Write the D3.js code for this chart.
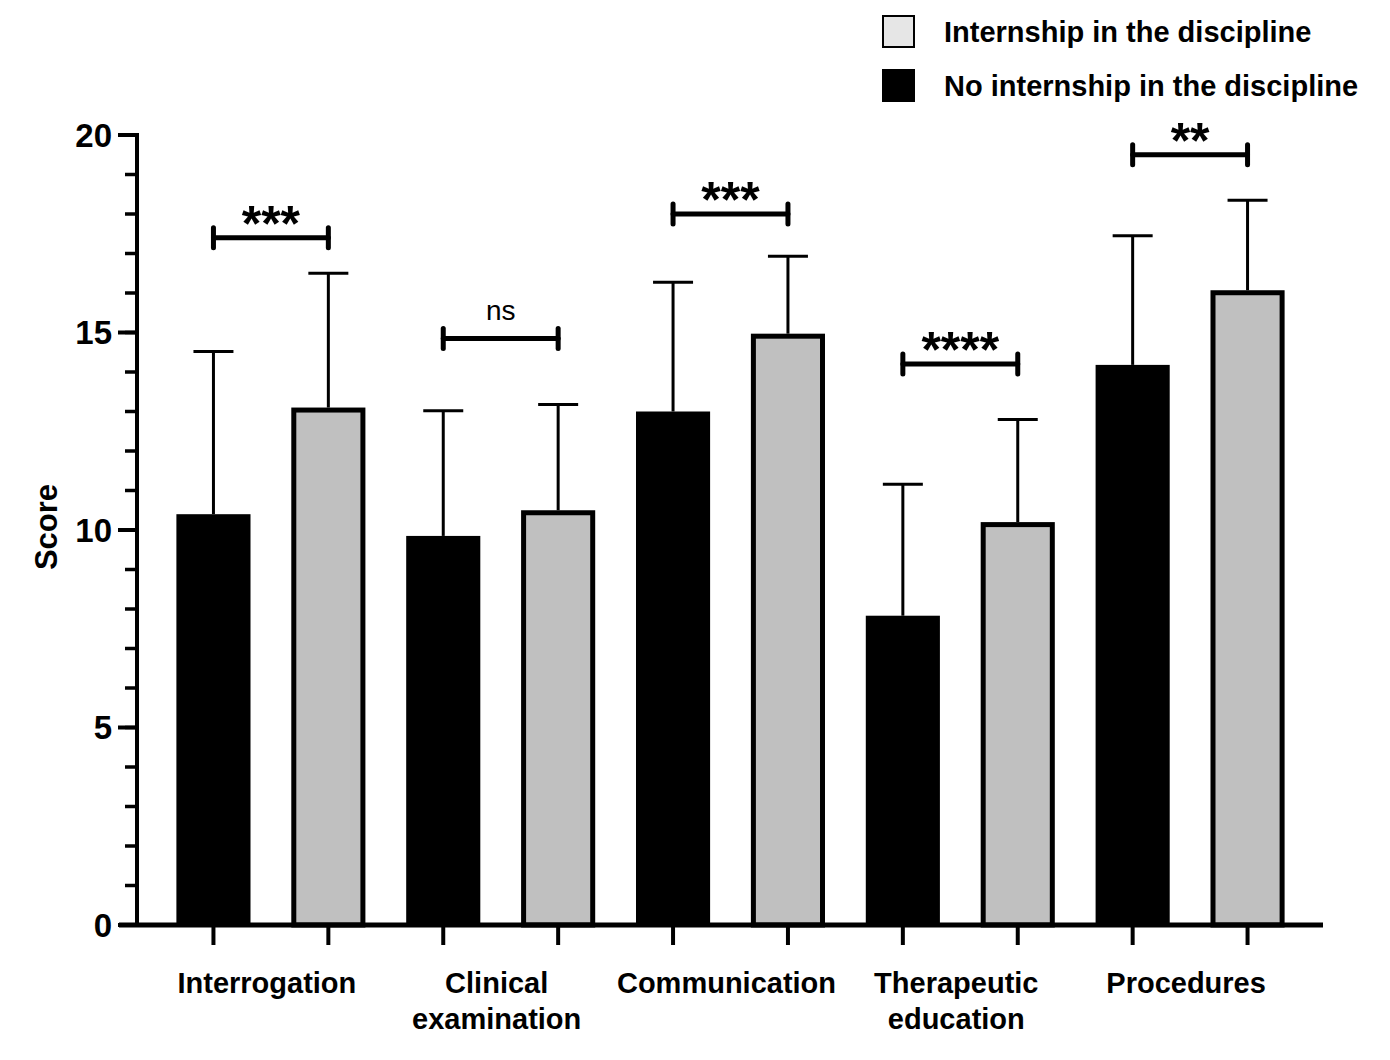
<!DOCTYPE html>
<html>
<head>
<meta charset="utf-8">
<script src="https://cdn.jsdelivr.net/npm/d3@7"></script>
<style>
  body { margin: 0; background: #fff; }
  text { font-family: "Liberation Sans", Arial, sans-serif; }
</style>
</head>
<body>
<div id="chart"></div>
<script>
// categories and series
var categories = ["Interrogation", "Clinical examination", "Communication", "Therapeutic education", "Procedures"];
var categoryLines = [["Interrogation"], ["Clinical", "examination"], ["Communication"], ["Therapeutic", "education"], ["Procedures"]];
var series = ["No internship in the discipline", "Internship in the discipline"];

// means and upper error (mean + SD)
var noInternMean = [10.4, 9.85, 13.0, 7.83, 14.18];
var noInternUpper = [14.52, 13.02, 16.27, 11.16, 17.45];
var internMean = [13.1, 10.5, 14.97, 10.2, 16.07];
var internUpper = [16.5, 13.18, 16.93, 12.8, 18.35];

// significance brackets
var sigLevel = [17.4, 14.85, 18.0, 14.2, 19.5];
var sigLabel = ["***", "ns", "***", "****", "**"];

var yTicks = [0, 5, 10, 15, 20];
var yMinorTicks = d3.range(0, 21, 1);

var width = 1390, height = 1060;

var svg = d3.select('#chart').append('svg')
  .attr('width', width)
  .attr('height', height);

var y = d3.scaleLinear().domain([0, 20]).range([925, 135]);

var x0 = d3.scaleBand().domain(categories).range([156, 1305]).paddingInner(0).paddingOuter(0);
var x1 = d3.scaleBand().domain(series).range([0, x0.bandwidth()])
  .paddingInner(0.355).paddingOuter(0.1775);

var data = [];
categories.forEach(function(c, i) {
  data.push({cat: c, s: series[0], mean: noInternMean[i], upper: noInternUpper[i]});
  data.push({cat: c, s: series[1], mean: internMean[i], upper: internUpper[i]});
});

var cx = function(d) { return x0(d.cat) + x1(d.s) + x1.bandwidth() / 2; };

// error bars (drawn behind the bars)
var eb = svg.append('g').attr('stroke', '#000').attr('stroke-width', 3);
eb.selectAll('line.v').data(data).enter().append('line')
  .attr('x1', cx).attr('x2', cx)
  .attr('y1', function(d) { return y(d.mean); })
  .attr('y2', function(d) { return y(d.upper); });
eb.selectAll('line.cap').data(data).enter().append('line')
  .attr('x1', function(d) { return cx(d) - 20; })
  .attr('x2', function(d) { return cx(d) + 20; })
  .attr('y1', function(d) { return y(d.upper); })
  .attr('y2', function(d) { return y(d.upper); });

// bars
svg.append('g').selectAll('rect').data(data).enter().append('rect')
  .attr('x', function(d) {
    return d.s === series[0] ? x0(d.cat) + x1(d.s) : x0(d.cat) + x1(d.s) + 2.5;
  })
  .attr('width', function(d) { return d.s === series[0] ? x1.bandwidth() : x1.bandwidth() - 5; })
  .attr('y', function(d) { return d.s === series[0] ? y(d.mean) : y(d.mean) + 2.5; })
  .attr('height', function(d) { return d.s === series[0] ? y(0) - y(d.mean) : y(0) - y(d.mean) - 2.5; })
  .attr('fill', function(d) { return d.s === series[0] ? '#000' : '#c0c0c0'; })
  .attr('stroke', function(d) { return d.s === series[0] ? 'none' : '#000'; })
  .attr('stroke-width', 5);

// y axis
var yAxis = svg.append('g').attr('transform', 'translate(137,0)');
yAxis.selectAll('line.minor').data(yMinorTicks).enter().append('line')
  .attr('x1', -12).attr('x2', 0)
  .attr('y1', function(d) { return y(d); }).attr('y2', function(d) { return y(d); })
  .attr('stroke', '#000').attr('stroke-width', 3.5);
yAxis.selectAll('line.major').data(yTicks).enter().append('line')
  .attr('x1', -19).attr('x2', 0)
  .attr('y1', function(d) { return y(d); }).attr('y2', function(d) { return y(d); })
  .attr('stroke', '#000').attr('stroke-width', 4);
yAxis.append('line')
  .attr('x1', 0).attr('x2', 0).attr('y1', y(20) - 2).attr('y2', y(0) + 2)
  .attr('stroke', '#000').attr('stroke-width', 4);
yAxis.selectAll('text').data(yTicks).enter().append('text')
  .attr('x', -25).attr('y', function(d) { return y(d); })
  .attr('dy', '0.36em')
  .attr('text-anchor', 'end')
  .attr('font-size', '33px').attr('font-weight', 'bold')
  .text(function(d) { return d; });

svg.append('text')
  .attr('transform', 'translate(57,' + 527 + ') rotate(-90)')
  .attr('text-anchor', 'middle')
  .attr('font-size', '31px').attr('font-weight', 'bold')
  .text('Score');

// x axis
svg.append('line')
  .attr('x1', 119).attr('x2', 1323).attr('y1', y(0)).attr('y2', y(0))
  .attr('stroke', '#000').attr('stroke-width', 5);
svg.append('g').selectAll('line').data(data).enter().append('line')
  .attr('x1', cx).attr('x2', cx)
  .attr('y1', y(0)).attr('y2', y(0) + 20)
  .attr('stroke', '#000').attr('stroke-width', 4);

var xl = svg.append('g').selectAll('text').data(categories).enter().append('text')
  .attr('text-anchor', 'middle')
  .attr('font-size', '29px').attr('font-weight', 'bold')
  .attr('x', function(d) { return x0(d) + x0.bandwidth() / 2 - 4; })
  .attr('y', 993);
xl.selectAll('tspan').data(function(d, i) { return categoryLines[i]; }).enter().append('tspan')
  .attr('x', function() { return d3.select(this.parentNode).attr('x'); })
  .attr('dy', function(d, i) { return i === 0 ? 0 : 36; })
  .text(function(d) { return d; });

// significance brackets
var sig = svg.append('g');
categories.forEach(function(c, i) {
  var xa = x0(c) + x1(series[0]) + x1.bandwidth() / 2;
  var xb = x0(c) + x1(series[1]) + x1.bandwidth() / 2;
  var yy = y(sigLevel[i]);
  var g = sig.append('g').attr('stroke', '#000').attr('stroke-width', 5).attr('stroke-linecap', 'round');
  g.append('line').attr('x1', xa).attr('x2', xb).attr('y1', yy).attr('y2', yy);
  g.append('line').attr('x1', xa).attr('x2', xa).attr('y1', yy - 10).attr('y2', yy + 10);
  g.append('line').attr('x1', xb).attr('x2', xb).attr('y1', yy - 10).attr('y2', yy + 10);
  var ns = sigLabel[i] === 'ns';
  sig.append('text')
    .attr('x', (xa + xb) / 2)
    .attr('y', ns ? yy - 18 : yy + 3)
    .attr('text-anchor', 'middle')
    .attr('font-size', ns ? '28px' : '50px')
    .attr('font-weight', ns ? 'normal' : 'bold')
    .text(sigLabel[i]);
});

// legend
var legendItems = [
  {label: series[1], fill: '#e6e6e6', stroke: '#000'},
  {label: series[0], fill: '#000', stroke: '#000'}
];
var lg = svg.append('g').selectAll('g').data(legendItems).enter().append('g')
  .attr('transform', function(d, i) { return 'translate(883,' + (16 + i * 54) + ')'; });
lg.append('rect')
  .attr('width', 31).attr('height', 31)
  .attr('fill', function(d) { return d.fill; })
  .attr('stroke', function(d) { return d.stroke; })
  .attr('stroke-width', 2);
lg.append('text')
  .attr('x', 61).attr('y', 16).attr('dy', '0.36em')
  .attr('font-family', 'Lato, "Noto Sans", sans-serif')
  .attr('font-size', '29px').attr('font-weight', 'bold')
  .text(function(d) { return d.label; });
</script>
</body>
</html>
